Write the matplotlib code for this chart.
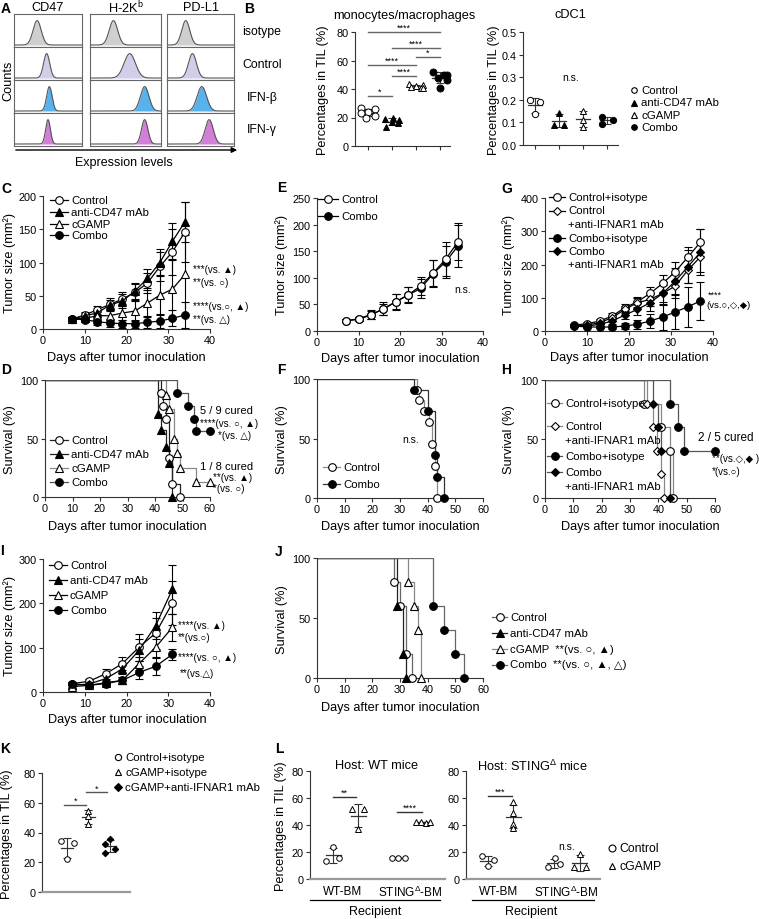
import numpy as np
import matplotlib
matplotlib.use('Agg')
import matplotlib.pyplot as plt

plt.rcParams['font.family'] = ['Liberation Sans', 'DejaVu Sans']
plt.rcParams['mathtext.fontset'] = 'custom'
plt.rcParams['mathtext.rm'] = 'Liberation Sans'
plt.rcParams['mathtext.it'] = 'Liberation Sans:italic'
plt.rcParams['mathtext.bf'] = 'Liberation Sans:bold'

W, H = 759, 920

# ---------------- DATA ----------------
# A: flow histograms (peak position / width as fraction of the expression axis)
hist_markers = ['CD47', 'H-2K$^{\\rm b}$', 'PD-L1']
hist_rows = ['isotype', 'Control', 'IFN-β', 'IFN-γ']
hist_peak = [[0.34, 0.48, 0.52, 0.50], [0.33, 0.56, 0.77, 0.77], [0.28, 0.38, 0.52, 0.63]]
hist_width = [[0.06, 0.045, 0.04, 0.035], [0.06, 0.08, 0.06, 0.045], [0.06, 0.06, 0.07, 0.06]]
hist_colors = ['#cfcfcf', '#d3cdea', '#58b2ec', '#d27fd8']

# B: percentages in TIL
groups4 = ['Control', 'anti-CD47 mAb', 'cGAMP', 'Combo']
mono_ctrl = [27, 26, 24, 23, 21, 20]
mono_anti = [20, 19, 18, 17, 16, 13]
mono_cgamp = [43.5, 43, 42, 41.5, 41, 40.5]
mono_combo = [52, 50, 49.5, 48, 46, 41]
mono_sig = [(0, 1, 35, '*'), (1, 2, 49, '****'), (0, 2, 57, '****'),
            (2, 3, 62.5, '*'), (1, 3, 69, '****'), (0, 3, 80, '****')]
cdc1_ctrl = [0.20, 0.19, 0.135]
cdc1_anti = [0.14, 0.09, 0.09]
cdc1_cgamp = [0.15, 0.11, 0.08]
cdc1_combo = [0.125, 0.11, 0.095]

# C: tumor growth
C_days = [7, 10, 13, 16, 19, 22, 25, 28, 31, 34]
C_ctrl = [15, 21, 29, 37, 45, 55, 69, 94, 116, 146]
C_ctrl_sd = [3, 5, 6, 10, 10, 12, 15, 22, 35, 45]
C_anti = [15, 20, 24, 36, 42, 57, 76, 100, 132, 161]
C_anti_sd = [3, 4, 5, 8, 10, 12, 14, 20, 28, 30]
C_cgamp = [15, 16, 20, 20, 24, 27, 39, 51, 60, 82]
C_cgamp_sd = [3, 4, 5, 8, 10, 15, 20, 30, 45, 60]
C_combo = [15, 14, 11, 9, 8, 8, 10, 12, 16, 21]
C_combo_sd = [3, 4, 5, 6, 6, 6, 8, 10, 12, 20]

# D: survival
D_ctrl_t = [42, 43, 44, 45, 46, 49]
D_ctrl_s = [89, 78, 67, 33, 11, 0]
D_anti_t = [41, 42, 44, 45, 46]
D_anti_s = [71, 57, 43, 29, 0]
D_cgamp_t = [44, 45, 47, 48, 49, 55, 60]
D_cgamp_s = [87.5, 75, 50, 37.5, 25, 12.5, 12.5]
D_combo_t = [48, 52, 54, 55, 60]
D_combo_s = [89, 78, 67, 56, 56]

# E: tumor growth
E_days = [7, 10, 13, 16, 19, 22, 25, 28, 31, 34]
E_ctrl = [19, 23, 31, 41, 55, 68, 85, 109, 135, 168]
E_ctrl_sd = [3, 4, 8, 10, 14, 14, 17, 24, 32, 35]
E_combo = [19, 22, 30, 42, 55, 68, 80, 108, 130, 160]
E_combo_sd = [3, 4, 7, 12, 15, 15, 18, 26, 30, 40]

# F: survival
F_ctrl_t = [36, 37, 38.5, 40.5, 41.5, 42.5, 43.5]
F_ctrl_s = [91, 82, 73, 64, 45, 27, 0]
F_combo_t = [35, 40, 42.5, 43.5, 46]
F_combo_s = [91, 73, 36, 18, 0]

# G: tumor growth
G_days = [7, 10, 13, 16, 19, 22, 25, 28, 31, 34, 37]
G_ctrl_iso = [18, 22, 30, 45, 70, 88, 113, 143, 178, 222, 267]
G_ctrl_iso_sd = [3, 4, 6, 8, 12, 15, 18, 25, 30, 30, 40]
G_ctrl_anti = [15, 18, 25, 40, 65, 85, 95, 113, 135, 183, 223]
G_ctrl_anti_sd = [3, 4, 5, 8, 10, 15, 20, 25, 35, 40, 45]
G_combo_iso = [15, 12, 12, 12, 15, 20, 30, 42, 57, 73, 90]
G_combo_iso_sd = [3, 3, 4, 6, 10, 14, 20, 40, 50, 60, 56]
G_combo_anti = [15, 15, 20, 30, 48, 65, 85, 113, 150, 193, 237]
G_combo_anti_sd = [3, 4, 5, 8, 12, 18, 25, 35, 40, 50, 70]

# H: survival
H_ctrl_iso_t = [35, 41, 44, 45]
H_ctrl_iso_s = [80, 60, 40, 0]
H_ctrl_anti_t = [36, 38, 39.5, 41, 42]
H_ctrl_anti_s = [80, 60, 40, 20, 0]
H_combo_iso_t = [44, 47, 49, 60]
H_combo_iso_s = [80, 60, 40, 40]
H_combo_anti_t = [38, 40, 41, 44]
H_combo_anti_s = [80, 60, 40, 0]

# I: tumor growth
I_days = [7, 11, 15, 19, 23, 27, 31]
I_ctrl = [19, 24, 41, 64, 101, 133, 201]
I_ctrl_sd = [4, 6, 12, 15, 30, 35, 50]
I_anti = [15, 18, 30, 52, 94, 150, 232]
I_anti_sd = [4, 5, 8, 12, 25, 30, 55]
I_cgamp = [12, 15, 21, 26, 64, 101, 146]
I_cgamp_sd = [3, 4, 6, 8, 15, 25, 30]
I_combo = [19, 15, 19, 26, 44, 58, 85]
I_combo_sd = [3, 4, 5, 8, 15, 20, 12]

# J: survival
J_ctrl_t = [28, 30, 32, 34.5]
J_ctrl_s = [80, 60, 20, 0]
J_anti_t = [29, 31, 32]
J_anti_s = [60, 20, 0]
J_cgamp_t = [33, 35, 36.5, 37.5]
J_cgamp_s = [80, 60, 40, 0]
J_combo_t = [42, 46, 50, 53]
J_combo_s = [60, 40, 20, 0]

# K
K_groups = ['Control+isotype', 'cGAMP+isotype', 'cGAMP+anti-IFNAR1 mAb']
K_ctrl = [34, 33, 22]
K_cgamp = [54.6, 51.2, 45.6]
K_cgamp_anti = [35.5, 32, 29, 26]
K_sig = [(0, 1, 58.4, '*'), (1, 2, 67, '*')]

# L
L_cats = ['WT-BM', 'STING$^{\\Delta}$-BM']
L1_wt_ctrl = [24, 13, 15.5]
L1_wt_cgamp = [51.7, 51.7, 37.4]
L1_st_ctrl = [15.3, 15.3, 15.3]
L1_st_cgamp = [42, 42.3, 41.8, 42]
L2_wt_ctrl = [17, 14, 9.5]
L2_wt_cgamp = [57, 48.7, 40.6, 38]
L2_st_ctrl = [8.6, 15.3, 11]
L2_st_cgamp = [8.6, 18.5, 8.6]

# ---------------- FIGURE ----------------
fig = plt.figure(figsize=(W / 100, H / 100), dpi=100)


def px_ax(x0, y0, x1, y1):
    return fig.add_axes([x0 / W, 1 - y1 / H, (x1 - x0) / W, (y1 - y0) / H])


def style(ax, fs=7.8):
    for s in ['top', 'right']:
        ax.spines[s].set_visible(False)
    for s in ['left', 'bottom']:
        ax.spines[s].set_color('#333')
        ax.spines[s].set_linewidth(0.8)
    ax.tick_params(length=3, width=0.8, labelsize=fs, pad=1.5, color='#333')
    ax.patch.set_alpha(0)


STY = {
    'ctrl': dict(marker='o', mfc='white', ms=5.5),
    'anti': dict(marker='^', mfc='black', ms=5.5),
    'cgamp': dict(marker='^', mfc='white', ms=5.5),
    'combo': dict(marker='o', mfc='black', ms=5.5),
    'ctrl_d': dict(marker='D', mfc='white', ms=4.2),
    'combo_d': dict(marker='D', mfc='black', ms=4.2),
}


def growth(ax, days, vals, sd, key):
    st = STY[key]
    ax.errorbar(days, vals, yerr=sd, color='black', lw=0.9, elinewidth=0.8,
                capsize=3, capthick=0.8, marker=st['marker'], mfc=st['mfc'],
                mec='black', ms=st['ms'], mew=0.8, zorder=3)


def survival(ax, t, s, key, color):
    st = STY[key]
    ax.step([0] + list(t), [100] + list(s), where='post', color=color, lw=0.9, zorder=2)
    ax.plot(t, s, ls='none', marker=st['marker'], mfc=st['mfc'], mec='black',
            ms=st['ms'], mew=0.8, zorder=3, clip_on=False)


def dots(ax, pos, vals, offs, marker, mfc, ms, half=0.32, cap=3, color='#333'):
    vals = np.asarray(vals, float)
    m = vals.mean()
    sd = vals.std(ddof=1)
    ax.plot([pos - half, pos + half], [m, m], color=color, lw=0.9, zorder=2)
    ax.errorbar([pos], [m], yerr=[sd], color=color, lw=0.8, capsize=cap, capthick=0.8,
                fmt='none', zorder=2)
    ax.plot(pos + np.asarray(offs), vals, ls='none', marker=marker, mfc=mfc, mec='black',
            ms=ms, mew=0.7, zorder=3, clip_on=False)


def sigbar(ax, x0, x1, y, label, fs=6.5, color='#666'):
    ax.plot([x0, x1], [y, y], color=color, lw=1.0, clip_on=False)
    ax.text((x0 + x1) / 2, y, label, ha='center', va='bottom', fontsize=fs, color='black')


# ---- A ----
col_x = [(14, 82), (90, 161), (167, 234)]
row_y = [(15, 48), (48, 81), (81, 114), (114, 147)]
xs = np.linspace(0, 1, 300)
for ci, (x0, x1) in enumerate(col_x):
    for ri, (y0, y1) in enumerate(row_y):
        ax = px_ax(x0, y0, x1, y1)
        p = hist_peak[ci][ri]
        w = hist_width[ci][ri]
        curve = 0.06 + 0.74 * np.exp(-0.5 * ((xs - p) / w) ** 2)
        ax.fill_between(xs, 0.06, curve, color=hist_colors[ri], lw=0)
        ax.plot(xs, curve, color='#555', lw=0.8)
        ax.set_xlim(0, 1)
        ax.set_ylim(0, 1)
        ax.set_xticks([])
        ax.set_yticks([])
        for s in ax.spines.values():
            s.set_color('#666')
            s.set_linewidth(0.8)

# ---- B ----
axB1 = px_ax(355, 33, 450, 147)
style(axB1)
b_offs = [[-0.3, 0.3, 0.0, -0.3, 0.3, -0.1], [0.05, -0.3, 0.3, 0.0, 0.25, -0.25],
          [-0.3, 0.3, 0.0, -0.2, 0.2, 0.3], [-0.3, 0.3, 0.15, -0.1, 0.3, 0.0]]
for i, (vals, key) in enumerate(zip([mono_ctrl, mono_anti, mono_cgamp, mono_combo],
                                    ['ctrl', 'anti', 'cgamp', 'combo'])):
    st = STY[key]
    dots(axB1, i, vals, b_offs[i], st['marker'], st['mfc'], 5)
for i, j, y, lab in mono_sig:
    sigbar(axB1, i, j, y, lab)
axB1.set_xlim(-0.54, 3.42)
axB1.set_ylim(0, 80)
axB1.set_yticks([0, 20, 40, 60, 80])
axB1.set_xticks([0, 1, 2, 3])
axB1.set_xticklabels([])

axB2 = px_ax(523, 33, 618, 146)
style(axB2)
c_offs = [[-0.22, 0.22, 0.0], [0.0, -0.22, 0.22], [0.0, 0.0, 0.0], [-0.22, 0.25, -0.22]]
for i, (vals, key) in enumerate(zip([cdc1_ctrl, cdc1_anti, cdc1_cgamp, cdc1_combo],
                                    ['ctrl', 'anti', 'cgamp', 'combo'])):
    st = STY[key]
    dots(axB2, i, vals, c_offs[i], st['marker'], st['mfc'], 4.5, half=0.28)
axB2.text(1.5, 0.3, 'n.s.', ha='center', va='center', fontsize=7.5)
axB2.set_xlim(-0.5, 3.46)
axB2.set_ylim(0, 0.5)
axB2.set_yticks([0, 0.1, 0.2, 0.3, 0.4, 0.5])
axB2.set_yticklabels(['0.0', '0.1', '0.2', '0.3', '0.4', '0.5'])
axB2.set_xticks([0, 1, 2, 3])
axB2.set_xticklabels([])

# ---- C ----
axC = px_ax(43, 197, 210, 330)
style(axC)
growth(axC, C_days, C_ctrl, C_ctrl_sd, 'ctrl')
growth(axC, C_days, C_anti, C_anti_sd, 'anti')
growth(axC, C_days, C_cgamp, C_cgamp_sd, 'cgamp')
growth(axC, C_days, C_combo, C_combo_sd, 'combo')
axC.set_xlim(0, 40)
axC.set_ylim(0, 200)
axC.set_xticks([0, 10, 20, 30, 40])
axC.set_yticks([0, 50, 100, 150, 200])

# ---- D ----
axD = px_ax(45, 381, 210, 498)
style(axD)
survival(axD, D_ctrl_t, D_ctrl_s, 'ctrl', '#222')
survival(axD, D_anti_t, D_anti_s, 'anti', '#222')
survival(axD, D_cgamp_t, D_cgamp_s, 'cgamp', '#888')
survival(axD, D_combo_t, D_combo_s, 'combo', '#555')
axD.set_xlim(0, 60)
axD.set_ylim(0, 100)
axD.set_xticks(range(0, 61, 10))
axD.set_yticks([0, 50, 100])

# ---- E ----
axE = px_ax(317, 199, 483, 332)
style(axE)
growth(axE, E_days, E_combo, E_combo_sd, 'combo')
growth(axE, E_days, E_ctrl, E_ctrl_sd, 'ctrl')
axE.set_xlim(0, 40)
axE.set_ylim(0, 250)
axE.set_xticks([0, 10, 20, 30, 40])
axE.set_yticks(range(0, 251, 50))

# ---- F ----
axF = px_ax(317, 380, 483, 499)
style(axF)
survival(axF, F_ctrl_t, F_ctrl_s, 'ctrl', '#888')
survival(axF, F_combo_t, F_combo_s, 'combo', '#333')
axF.set_xlim(0, 60)
axF.set_ylim(0, 100)
axF.set_xticks(range(0, 61, 10))
axF.set_yticks([0, 50, 100])

# ---- G ----
axG = px_ax(545, 199, 713, 332)
style(axG)
growth(axG, G_days, G_ctrl_iso, G_ctrl_iso_sd, 'ctrl')
growth(axG, G_days, G_ctrl_anti, G_ctrl_anti_sd, 'ctrl_d')
growth(axG, G_days, G_combo_anti, G_combo_anti_sd, 'combo_d')
growth(axG, G_days, G_combo_iso, G_combo_iso_sd, 'combo')
axG.set_xlim(0, 40)
axG.set_ylim(0, 400)
axG.set_xticks([0, 10, 20, 30, 40])
axG.set_yticks(range(0, 401, 100))

# ---- H ----
axH = px_ax(545, 381, 715, 499)
style(axH)
survival(axH, H_ctrl_iso_t, H_ctrl_iso_s, 'ctrl', '#888')
survival(axH, H_ctrl_anti_t, H_ctrl_anti_s, 'ctrl_d', '#888')
survival(axH, H_combo_anti_t, H_combo_anti_s, 'combo_d', '#555')
survival(axH, H_combo_iso_t, H_combo_iso_s, 'combo', '#555')
axH.set_xlim(0, 60)
axH.set_ylim(0, 100)
axH.set_xticks(range(0, 61, 10))
axH.set_yticks([0, 50, 100])

# ---- I ----
axI = px_ax(43, 560, 210, 693)
style(axI)
growth(axI, I_days, I_ctrl, I_ctrl_sd, 'ctrl')
growth(axI, I_days, I_anti, I_anti_sd, 'anti')
growth(axI, I_days, I_cgamp, I_cgamp_sd, 'cgamp')
growth(axI, I_days, I_combo, I_combo_sd, 'combo')
axI.set_xlim(0, 40)
axI.set_ylim(0, 300)
axI.set_xticks([0, 10, 20, 30, 40])
axI.set_yticks([0, 100, 200, 300])

# ---- J ----
axJ = px_ax(317, 559, 483, 679)
style(axJ)
survival(axJ, J_ctrl_t, J_ctrl_s, 'ctrl', '#666')
survival(axJ, J_anti_t, J_anti_s, 'anti', '#222')
survival(axJ, J_cgamp_t, J_cgamp_s, 'cgamp', '#888')
survival(axJ, J_combo_t, J_combo_s, 'combo', '#666')
axJ.set_xlim(0, 60)
axJ.set_ylim(0, 100)
axJ.set_xticks(range(0, 61, 10))
axJ.set_yticks([0, 50, 100])

# ---- K ----
axK = px_ax(42, 774, 130, 893)
style(axK)
axK.spines['bottom'].set_color('#999')
axK.spines['bottom'].set_linewidth(1.6)
dots(axK, 0, K_ctrl, [-0.28, 0.31, 0.0], 'o', 'white', 4, half=0.3)
dots(axK, 1, K_cgamp, [0, 0, 0], '^', 'white', 4, half=0.3)
dots(axK, 2, K_cgamp_anti, [0.0, -0.23, 0.23, -0.23], 'D', 'black', 3.3, half=0.3)
for i, j, y, lab in K_sig:
    sigbar(axK, i - 0.12, j - 0.12, y, lab, color='#555')
axK.set_xlim(-1.16, 2.93)
axK.set_ylim(0, 80)
axK.set_yticks([0, 20, 40, 60, 80])
axK.set_xticks([])

# ---- L ----
L_pos = [0, 1, 2.6, 3.6]
axL1 = px_ax(310, 772, 445, 880)
style(axL1)
axL1.spines['bottom'].set_color('#999')
axL1.spines['bottom'].set_linewidth(1.6)
dots(axL1, L_pos[0], L1_wt_ctrl, [0, -0.27, 0.23], 'o', 'white', 4, half=0.3)
dots(axL1, L_pos[1], L1_wt_cgamp, [-0.24, 0.23, 0], '^', 'white', 4, half=0.3)
dots(axL1, L_pos[2], L1_st_ctrl, [-0.23, 0, 0.27], 'o', 'white', 4, half=0.3)
dots(axL1, L_pos[3], L1_st_cgamp, [-0.27, -0.07, 0.13, 0.27], '^', 'white', 4, half=0.3)
sigbar(axL1, 0, 0.9, 61, '**', color='#333')
sigbar(axL1, 2.56, 3.56, 49.7, '****', color='#333')
axL1.set_xlim(-0.92, 4.48)
axL1.set_ylim(0, 80)
axL1.set_yticks([0, 20, 40, 60, 80])
axL1.set_xticks([])

axL2 = px_ax(466, 772, 600, 880)
style(axL2)
axL2.spines['bottom'].set_color('#999')
axL2.spines['bottom'].set_linewidth(1.6)
dots(axL2, L_pos[0], L2_wt_ctrl, [-0.24, 0.25, 0], 'o', 'white', 4, half=0.3)
dots(axL2, L_pos[1], L2_wt_cgamp, [0, 0, 0, 0], '^', 'white', 4, half=0.3)
dots(axL2, L_pos[2], L2_st_ctrl, [-0.23, 0.04, 0.23], 'o', 'white', 4, half=0.3)
dots(axL2, L_pos[3], L2_st_cgamp, [-0.24, 0, 0.23], '^', 'white', 4, half=0.3)
sigbar(axL2, 0, 0.94, 61.5, '***', color='#333')
axL2.text(3.1, 24.6, 'n.s.', ha='center', va='center', fontsize=7.5)
axL2.set_xlim(-0.86, 4.39)
axL2.set_ylim(0, 80)
axL2.set_yticks([0, 20, 40, 60, 80])
axL2.set_xticks([])

# ---------------- OVERLAY (texts, legends) ----------------
ov = fig.add_axes([0, 0, 1, 1])
ov.set_xlim(0, W)
ov.set_ylim(H, 0)
ov.axis('off')
ov.patch.set_alpha(0)


def T(x, y, s, fs=8.2, ha='left', va='center', **kw):
    ov.text(x, y, s, fontsize=fs, ha=ha, va=va, **kw)


def letter(x, y, s):
    T(x, y, s, fs=10, fontweight='bold', va='top')


def leg_line(x0, x1, y, key, text, color='black', fs=8.2):
    st = STY[key]
    ov.plot([x0, x1], [y, y], color=color, lw=0.9)
    ov.plot([(x0 + x1) / 2], [y], marker=st['marker'], mfc=st['mfc'], mec='black',
            ms=st['ms'], mew=0.8, ls='none')
    T(x1 + 3, y, text, fs=fs)


def leg_mark(x, y, marker, mfc, ms, text, fs=8.2):
    ov.plot([x], [y], marker=marker, mfc=mfc, mec='black', ms=ms, mew=0.8, ls='none')
    T(x + 7, y, text, fs=fs)


XL = 'Days after tumor inoculation'
# panel letters
for (x, y, s) in [(1, 2, 'A'), (244, 2, 'B'), (1, 182, 'C'), (1, 363, 'D'), (277, 181, 'E'),
                  (277, 363, 'F'), (501, 182, 'G'), (501, 363, 'H'), (0, 544, 'I'),
                  (275, 545, 'J'), (0, 742, 'K'), (275, 742, 'L')]:
    letter(x, y, s)

# A texts
for (x0, x1), name in zip(col_x, hist_markers):
    T((x0 + x1) / 2, 8, name, fs=9.2, ha='center')
for (y0, y1), name in zip(row_y, hist_rows):
    T(262, (y0 + y1) / 2, name, fs=8.8, ha='center')
T(8, 81, 'Counts', fs=9.2, ha='center', rotation=90)
ov.annotate('', xy=(240, 151), xytext=(13, 151),
            arrowprops=dict(arrowstyle='-|>', color='black', lw=1.0, mutation_scale=8))
T(124, 163, 'Expression levels', fs=9, ha='center')

# B texts
T(404, 16, 'monocytes/macrophages', fs=9.2, ha='center')
T(570, 15, 'cDC1', fs=9.2, ha='center')
T(323, 90, 'Percentages in TIL (%)', fs=9.2, ha='center', rotation=90)
T(494, 90, 'Percentages in TIL (%)', fs=9.2, ha='center', rotation=90)
for y, key, name in zip([91, 103.5, 116, 128], ['ctrl', 'anti', 'cgamp', 'combo'], groups4):
    st = STY[key]
    leg_mark(634, y, st['marker'], st['mfc'], 4, name)

# C
T(10, 263, 'Tumor size (mm²)', fs=9.2, ha='center', rotation=90)
T(126, 358, XL, fs=9.2, ha='center')
for y, key, name in zip([201, 213, 224.5, 236], ['ctrl', 'anti', 'cgamp', 'combo'], groups4):
    leg_line(50, 68, y, key, name)
T(193, 270, '***(vs. ▲)', fs=7)
T(193, 283, '**(vs. ○)', fs=7)
T(193, 307, '****(vs.○, ▲)', fs=7)
T(193, 320, '**(vs. △)', fs=7)

# D
T(10, 440, 'Survival (%)', fs=9.2, ha='center', rotation=90)
T(127, 527, XL, fs=9.2, ha='center')
for y, key, name, c in zip([441, 455, 469, 483], ['ctrl', 'anti', 'cgamp', 'combo'], groups4,
                           ['#222', '#222', '#888', '#555']):
    leg_line(50, 68, y, key, name, color=c)
T(200, 411, '5 / 9 cured', fs=8)
T(200, 424, '****(vs. ○, ▲)', fs=7)
T(218, 436, '*(vs. △)', fs=7)
T(200, 467, '1 / 8 cured', fs=8)
T(213, 478, '**(vs. ▲)', fs=7)
T(213, 489, '*(vs. ○)', fs=7)

# E
T(282, 265, 'Tumor size (mm²)', fs=9.2, ha='center', rotation=90)
T(400, 359, XL, fs=9.2, ha='center')
leg_line(318, 338, 200, 'ctrl', 'Control')
leg_line(318, 338, 217, 'combo', 'Combo')
T(463, 290, 'n.s.', fs=7.5, ha='center')

# F
T(282, 440, 'Survival (%)', fs=9.2, ha='center', rotation=90)
T(400, 527, XL, fs=9.2, ha='center')
leg_line(323, 340, 468, 'ctrl', 'Control', color='#888')
leg_line(323, 340, 485, 'combo', 'Combo', color='#333')
T(411, 440, 'n.s.', fs=7.5, ha='center')

# G
T(509, 265, 'Tumor size (mm²)', fs=9.2, ha='center', rotation=90)
T(629, 358, XL, fs=9.2, ha='center')
leg_line(549, 565, 198, 'ctrl', 'Control+isotype')
leg_line(549, 565, 211.5, 'ctrl_d', 'Control')
T(568, 225, '+anti-IFNAR1 mAb')
leg_line(549, 565, 238.5, 'combo', 'Combo+isotype')
leg_line(549, 565, 252, 'combo_d', 'Combo')
T(568, 265.5, '+anti-IFNAR1 mAb')
T(708, 295, '****', fs=6.5)
T(706, 306, '(vs.○,◇,◆)', fs=6.8)

# H
T(509, 440, 'Survival (%)', fs=9.2, ha='center', rotation=90)
T(640, 527, XL, fs=9.2, ha='center')
leg_line(547, 562, 404, 'ctrl', 'Control+isotype', color='#888')
leg_line(547, 562, 427, 'ctrl_d', 'Control', color='#888')
T(565, 441, '+anti-IFNAR1 mAb')
leg_line(547, 562, 457, 'combo', 'Combo+isotype', color='#555')
leg_line(547, 562, 473, 'combo_d', 'Combo', color='#555')
T(565, 487, '+anti-IFNAR1 mAb')
T(698, 438, '2 / 5 cured', fs=8.5)
T(712, 459, '**(vs.◇,◆ )', fs=7)
T(712, 472, '*(vs.○)', fs=7)

# I
T(10, 626, 'Tumor size (mm²)', fs=9.2, ha='center', rotation=90)
T(127, 720, XL, fs=9.2, ha='center')
for y, key, name in zip([566, 581, 596, 611], ['ctrl', 'anti', 'cgamp', 'combo'], groups4):
    leg_line(49, 67, y, key, name)
T(178, 626, '****(vs. ▲)', fs=7)
T(178, 638, '**(vs.○)', fs=7)
T(178, 658, '****(vs. ○, ▲)', fs=7)
T(180, 674, '**(vs.△)', fs=7)

# J
T(282, 620, 'Survival (%)', fs=9.2, ha='center', rotation=90)
T(400, 708, XL, fs=9.2, ha='center')
leg_line(492, 507, 618, 'ctrl', 'Control', color='#666')
leg_line(492, 507, 634, 'anti', 'anti-CD47 mAb', color='#222')
leg_line(492, 507, 650, 'cgamp', 'cGAMP  **(vs. ○, ▲)', color='#888')
leg_line(492, 507, 665.5, 'combo', 'Combo  **(vs. ○, ▲, △)', color='#666')

# K
T(7, 834, 'Percentages in TIL (%)', fs=9.2, ha='center', rotation=90)
leg_mark(118, 758, 'o', 'white', 4.5, K_groups[0])
leg_mark(118, 773, '^', 'white', 4.5, K_groups[1])
leg_mark(118, 788, 'D', 'black', 3.8, K_groups[2])

# L
T(281, 826, 'Percentages in TIL (%)', fs=9.2, ha='center', rotation=90)
T(377, 766, 'Host: WT mice', fs=9.2, ha='center')
T(532, 766, 'Host: STING$^{\\Delta}$ mice', fs=9.2, ha='center')
for cx, lab in zip([343, 410], L_cats):
    T(cx, 892, lab, fs=8.5, ha='center')
for cx, lab in zip([499, 566], L_cats):
    T(cx, 892, lab, fs=8.5, ha='center')
ov.plot([310, 440], [901, 901], color='black', lw=0.9)
ov.plot([472, 594], [901, 901], color='black', lw=0.9)
T(375, 912, 'Recipient', fs=9, ha='center')
T(531, 912, 'Recipient', fs=9, ha='center')
leg_mark(612, 849, 'o', 'white', 5, 'Control', fs=8.8)
leg_mark(612, 867, '^', 'white', 5, 'cGAMP', fs=8.8)

fig.savefig('out.png', dpi=100)
